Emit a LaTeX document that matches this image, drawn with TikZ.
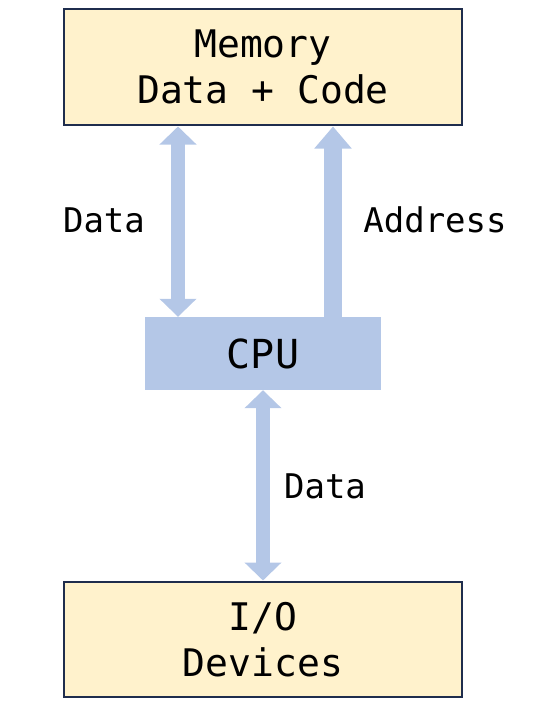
\documentclass[tikz,border=0pt]{standalone}
\usepackage{fontspec}
\setmonofont{DejaVu Sans Mono}
\usetikzlibrary{arrows.meta}
\definecolor{memfill}{HTML}{FFF2CC}
\definecolor{cpufill}{HTML}{B4C7E7}
\definecolor{navy}{HTML}{1F2D4D}
\begin{document}
\begin{tikzpicture}[x=1pt,y=-1pt,
  box/.style={draw=navy, line width=1.5pt, fill=memfill, align=center,
    font=\ttfamily\fontsize{38}{46}\selectfont, inner sep=0pt},
  cpubox/.style={fill=cpufill, inner sep=0pt, font=\ttfamily\fontsize{40}{48}\selectfont},
  lab/.style={font=\ttfamily\fontsize{34}{40}\selectfont, inner sep=0pt},
  arr/.style={draw=cpufill, line width=14pt},
]
\useasboundingbox (0,0) rectangle (541,706);
\node[box, minimum width=398pt, minimum height=116pt] (mem) at (263,67) {Memory\\Data + Code};
\node[cpubox, minimum width=236pt, minimum height=73pt] (cpu) at (263,353.5) {CPU};
\node[box, minimum width=398pt, minimum height=115pt] (io) at (263,639.5) {I/O\\Devices};
\coordinate (xl) at (178,0);
\coordinate (xr) at (333,0);
\draw[arr, {Triangle[width=36pt,length=18pt]}-{Triangle[width=36pt,length=18pt]}]
  ([yshift=-0.75pt]mem.south -| xl) -- (cpu.north -| xl);
\draw[arr, line width=18pt, -{Triangle[width=36pt,length=22pt]}]
  (cpu.north -| xr) -- ([yshift=-0.75pt]mem.south -| xr);
\draw[arr, {Triangle[width=36pt,length=18pt]}-{Triangle[width=36pt,length=18pt]}]
  (cpu.south) -- ([yshift=0.75pt]io.north);
\node[lab] (l1) at (104,220) {Data};
\node[lab] (l2) at (435,220) {Address};
\node[lab] (l3) at (325,486) {Data};
\end{tikzpicture}
\end{document}
